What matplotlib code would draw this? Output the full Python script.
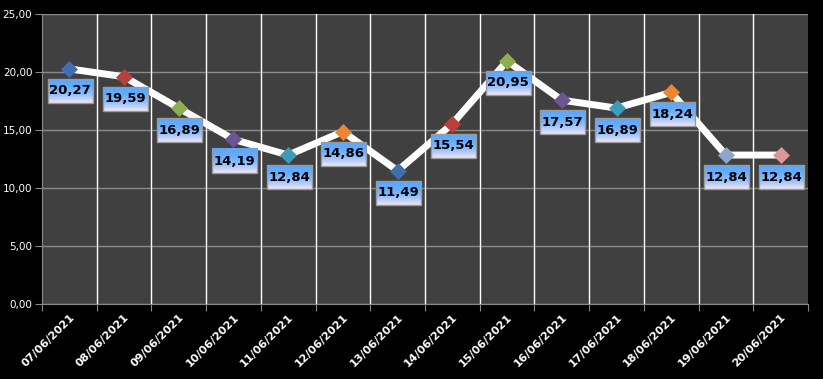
import matplotlib
matplotlib.use("Agg")
import matplotlib.pyplot as plt
import numpy as np
from matplotlib.ticker import FuncFormatter

dates = ["07/06/2021", "08/06/2021", "09/06/2021", "10/06/2021", "11/06/2021",
         "12/06/2021", "13/06/2021", "14/06/2021", "15/06/2021", "16/06/2021",
         "17/06/2021", "18/06/2021", "19/06/2021", "20/06/2021"]
values = [20.27, 19.59, 16.89, 14.19, 12.84, 14.86, 11.49, 15.54, 20.95, 17.57,
          16.89, 18.24, 12.84, 12.84]
marker_colors = ["#3f6fb0", "#b9403d", "#8cae4c", "#6f5494", "#3a9cb8", "#ef8530",
                 "#3f6fb0", "#b9403d", "#8cae4c", "#6f5494", "#3a9cb8", "#ef8530",
                 "#8ea6cc", "#d99a96"]
y_ticks = [0, 5, 10, 15, 20, 25]

W, H = 823, 379
fig = plt.figure(figsize=(W / 100, H / 100), dpi=100, facecolor="black")
ax = fig.add_axes([42 / W, 1 - 304 / H, (808 - 42) / W, (304 - 14) / H])
ax.set_facecolor("#404040")

n = len(dates)
x = np.arange(n)
ax.set_xlim(-0.5, n - 0.5)
ax.set_ylim(0, 25)

# grid
for yt in y_ticks:
    ax.axhline(yt, color="#8a8a8a", lw=1, zorder=1)
for b in np.arange(0.5, n - 0.5, 1):
    ax.axvline(b, color="white", lw=1, zorder=1)

ax.plot(x, values, color="white", lw=5, solid_capstyle="round", zorder=3)
for xi, v, c in zip(x, values, marker_colors):
    ax.plot(xi, v, marker="D", markersize=8.5, color=c, markeredgecolor=c,
            markeredgewidth=0.5, zorder=4)

# gradient label boxes
fig.canvas.draw()
to_data = ax.transData.inverted()
grad = (np.linspace(0, 1, 64) ** 2.2)[:, None]
top = np.array([0.36, 0.66, 1.0])
bot = np.array([0.97, 0.91, 0.96])
img = (top[None, None, :] * (1 - grad[:, :, None]) + bot[None, None, :] * grad[:, :, None])
img = np.repeat(img, 4, axis=1)
bw, bh = 45, 24  # px
for xi, v in zip(x, values):
    px, py = ax.transData.transform((xi, v))
    cx, cy = px + 1, py - 22
    (x0, y0) = to_data.transform((cx - bw / 2, cy - bh / 2))
    (x1, y1) = to_data.transform((cx + bw / 2, cy + bh / 2))
    ax.imshow(img, extent=(x0, x1, y0, y1), aspect="auto", zorder=5, origin="upper",
              interpolation="bilinear")
    ax.add_patch(plt.Rectangle((x0, y0), x1 - x0, y1 - y0, fill=False,
                               edgecolor="#9a9a9a", lw=1, zorder=6))
    xc, yc = to_data.transform((cx, cy))
    ax.text(xc, yc, f"{v:.2f}".replace(".", ","), ha="center", va="center",
            fontsize=9.5, fontweight="bold", color="black", zorder=7)

ax.set_xlim(-0.5, n - 0.5)
ax.set_ylim(0, 25)

ax.set_yticks(y_ticks)
ax.yaxis.set_major_formatter(FuncFormatter(lambda v, p: f"{v:.2f}".replace(".", ",")))
ax.set_xticks(np.arange(-0.5, n, 1))
ax.set_xticklabels([])
ax.set_xticks(x, minor=True)
ax.set_xticklabels(dates, minor=True, rotation=45, ha="right", rotation_mode="anchor",
                   fontsize=8, fontweight="bold", color="white")
ax.tick_params(axis="x", which="minor", length=0, pad=6)
ax.tick_params(axis="x", which="major", length=5, color="#8a8a8a")
ax.tick_params(axis="y", length=5, color="#8a8a8a", labelcolor="white", labelsize=7.5, pad=2)
for s in ["top", "right"]:
    ax.spines[s].set_visible(False)
ax.spines["left"].set_color("#8a8a8a")
ax.spines["bottom"].set_color("#8a8a8a")

fig.savefig("out.png", dpi=100, facecolor="black")
